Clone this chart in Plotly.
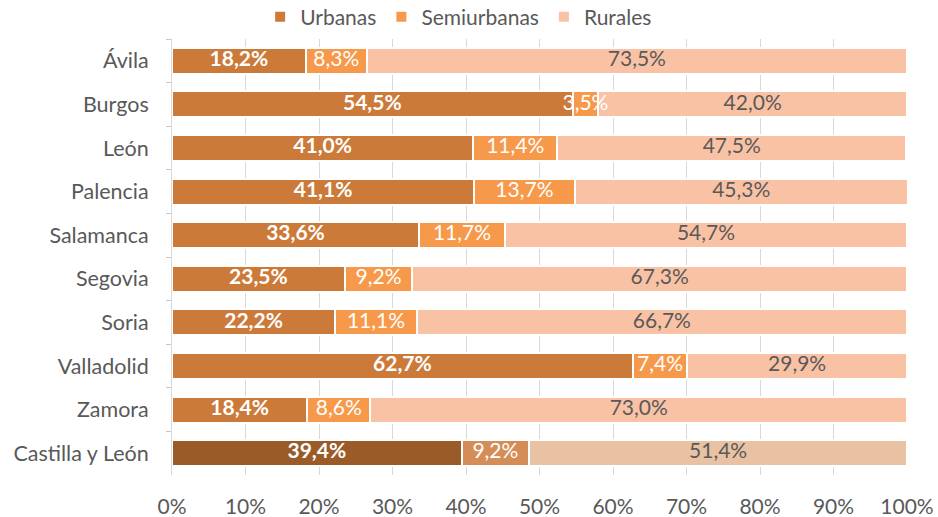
import plotly.graph_objects as go

categories = ["Ávila", "Burgos", "León", "Palencia", "Salamanca", "Segovia",
              "Soria", "Valladolid", "Zamora", "Castilla y León"]
urbanas = [18.2, 54.5, 41.0, 41.1, 33.6, 23.5, 22.2, 62.7, 18.4, 39.4]
semiurbanas = [8.3, 3.5, 11.4, 13.7, 11.7, 9.2, 11.1, 7.4, 8.6, 9.2]
rurales = [73.5, 42.0, 47.5, 45.3, 54.7, 67.3, 66.7, 29.9, 73.0, 51.4]
x_ticks = [0, 10, 20, 30, 40, 50, 60, 70, 80, 90, 100]

FONT = "Lato"
GRAY = "#595959"
FS = 21

def cols(normal, total):
    return [normal] * (len(categories) - 1) + [total]

series = [
    ("Urbanas", urbanas, cols("#CC7A39", "#9A5B28")),
    ("Semiurbanas", semiurbanas, cols("#F7994A", "#D48D57")),
    ("Rurales", rurales, cols("#F9C2A5", "#E8C2A2")),
]

def fmt(v):
    return f"{v:.1f}%".replace(".", ",")

fig = go.Figure()
for name, vals, colors in series:
    fig.add_trace(go.Bar(
        y=categories, x=vals, name=name, orientation="h",
        marker=dict(color=colors, line=dict(color="white", width=2)),
        hoverinfo="skip",
    ))

label_styles = [
    dict(color="white", family=FONT, size=FS, weight="bold"),
    dict(color="white", family=FONT, size=FS),
    dict(color=GRAY, family=FONT, size=FS),
]
base = [0.0] * len(categories)
for (name, vals, _), style in zip(series, label_styles):
    mids = [b + v / 2 for b, v in zip(base, vals)]
    fig.add_trace(go.Scatter(
        y=categories, x=mids, mode="text", text=[fmt(v) for v in vals],
        textfont=style, showlegend=False, hoverinfo="skip", cliponaxis=False,
    ))
    base = [b + v for b, v in zip(base, vals)]

fig.update_layout(
    width=938, height=517,
    barmode="stack", bargap=0.4,
    plot_bgcolor="white", paper_bgcolor="white",
    margin=dict(l=172, r=31, t=39, b=42, autoexpand=False),
    font=dict(family=FONT, size=FS, color=GRAY),
    legend=dict(orientation="h", x=0.39, xanchor="center", y=1.05,
                yanchor="middle", font=dict(size=FS, color=GRAY), traceorder="normal",
                itemwidth=30),
    xaxis=dict(range=[0, 100], tickvals=x_ticks, ticktext=[f"{t}%" for t in x_ticks],
               showgrid=True, gridcolor="#D9D9D9", gridwidth=1, zeroline=False,
               showline=False, ticks="", ticklabelstandoff=17, automargin=False),
    yaxis=dict(autorange="reversed", showline=True, linecolor="#D9D9D9", linewidth=1,
               ticks="outside", tickson="boundaries", ticklen=5, tickcolor="#C8C8C8",
               showgrid=False, ticklabelstandoff=18, automargin=False,
               tickfont=dict(size=21.5)),
)

fig.write_html("out.html", config={"displayModeBar": False},
               post_script="document.body.style.margin='0px';document.body.style.overflow='hidden';")
